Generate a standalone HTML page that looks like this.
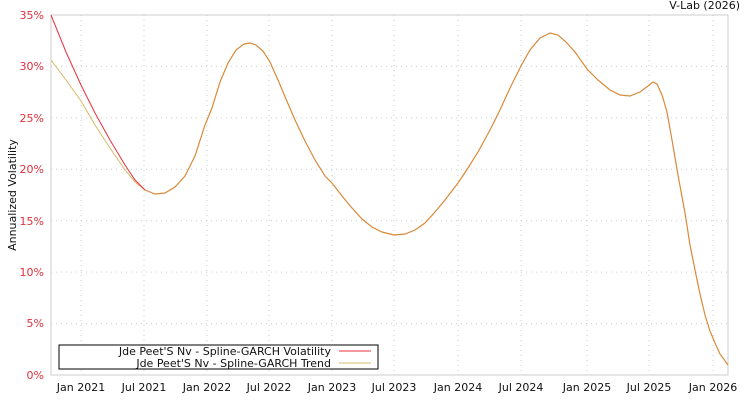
<!DOCTYPE html>
<html><head><meta charset="utf-8"><style>
body{margin:0;background:#fff;}
svg{display:block;font-family:"DejaVu Sans","Liberation Sans",sans-serif;}
</style></head><body>
<svg width="750" height="400" viewBox="0 0 750 400">
<rect width="750" height="400" fill="#fff"/>
<g stroke="#ccc" stroke-width="1" stroke-dasharray="1,4">
<line x1="51" x2="728" y1="66.4" y2="66.4"/><line x1="51" x2="728" y1="117.9" y2="117.9"/>
<line x1="51" x2="728" y1="169.3" y2="169.3"/><line x1="51" x2="728" y1="220.7" y2="220.7"/>
<line x1="51" x2="728" y1="272.1" y2="272.1"/><line x1="51" x2="728" y1="323.6" y2="323.6"/>
<line x1="81" x2="81" y1="15" y2="375"/><line x1="144" x2="144" y1="15" y2="375"/>
<line x1="207" x2="207" y1="15" y2="375"/><line x1="269" x2="269" y1="15" y2="375"/>
<line x1="332" x2="332" y1="15" y2="375"/><line x1="394" x2="394" y1="15" y2="375"/>
<line x1="458" x2="458" y1="15" y2="375"/><line x1="521" x2="521" y1="15" y2="375"/>
<line x1="587" x2="587" y1="15" y2="375"/><line x1="649" x2="649" y1="15" y2="375"/>
<line x1="713" x2="713" y1="15" y2="375"/>
</g>
<rect x="51" y="15" width="677" height="360" fill="none" stroke="#ccc"/>
<g fill="#e0303c" font-size="11" text-anchor="end">
<text x="44" y="19">35%</text><text x="44" y="70">30%</text><text x="44" y="122">25%</text>
<text x="44" y="173">20%</text><text x="44" y="225">15%</text><text x="44" y="276">10%</text>
<text x="44" y="327">5%</text><text x="44" y="379">0%</text>
</g>
<g fill="#111" font-size="11" text-anchor="middle">
<text x="81" y="391">Jan 2021</text><text x="144" y="391">Jul 2021</text><text x="207" y="391">Jan 2022</text>
<text x="269" y="391">Jul 2022</text><text x="332" y="391">Jan 2023</text><text x="394" y="391">Jul 2023</text>
<text x="458" y="391">Jan 2024</text><text x="521" y="391">Jul 2024</text><text x="587" y="391">Jan 2025</text>
<text x="649" y="391">Jul 2025</text><text x="713" y="391">Jan 2026</text>
</g>
<text x="740" y="9" font-size="11" text-anchor="end" fill="#111">V-Lab (2026)</text>
<text transform="translate(16,195) rotate(-90)" font-size="11" text-anchor="middle" fill="#111">Annualized Volatility</text>
<polyline fill="none" stroke="#d8b868" stroke-width="1" points="51,60 66,80 81,101 95,125 110,148 125,170 135,182 145,190"/>
<polyline fill="none" stroke="#e8303c" stroke-width="1" points="51,15 66,52 81,85 95,113 110,140 125,165 135,180 145,190"/>
<polyline fill="none" stroke="#d98a3a" stroke-width="1.2" points="145,190 155,194 165,193 175,187 185,176 195,156 205,125 212,108 220,82 228,63 236,50 244,44 250,43 256,45 263,51 270,62 278,80 286,99 295,120 305,141 315,160 325,176 332,183 342,196 352,208 362,219 372,227 382,232 394,235 405,234 415,230 425,223 435,212 445,200 458,183 468,168 478,152 490,130 500,110 510,88 521,66 530,50 540,38 550,33 558,35 566,42 575,52 587,69 598,80 610,90 620,95 630,96 640,92 648,86 653,82 657,84 662,95 667,112 672,140 678,175 685,213 690,245 695,270 700,294 705,315 710,331 715,343 720,354 728,365"/>
<rect x="59" y="345" width="319" height="24" fill="#fff" stroke="#000"/>
<g font-size="11" fill="#111" text-anchor="end">
<text x="331" y="355">Jde Peet'S Nv - Spline-GARCH Volatility</text>
<text x="331" y="367">Jde Peet'S Nv - Spline-GARCH Trend</text>
</g>
<line x1="339" x2="371" y1="351" y2="351" stroke="#e8303c"/>
<line x1="339" x2="371" y1="363" y2="363" stroke="#d8b868"/>
</svg>
</body></html>
